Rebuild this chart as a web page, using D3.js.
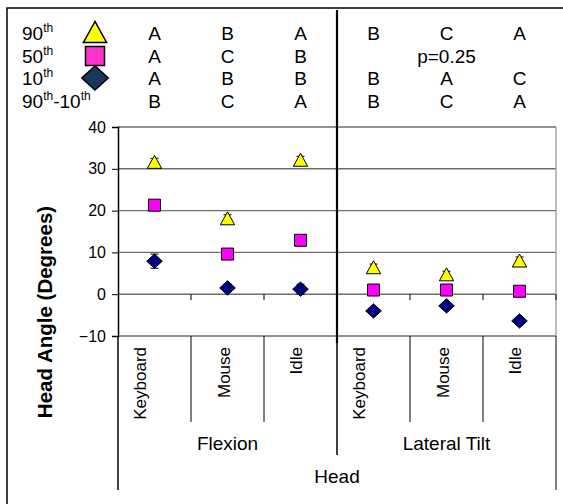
<!DOCTYPE html>
<html>
<head>
<meta charset="utf-8">
<script src="https://cdn.jsdelivr.net/npm/d3@7"></script>
<style>
  body { margin: 0; background: #fff; }
  text { font-family: Arial, "Liberation Sans", sans-serif; fill: #000; }
</style>
</head>
<body>
<div id="chart-area"></div>
<script>
// categories
var groups = ["Flexion", "Lateral Tilt"];
var tasks = ["Keyboard", "Mouse", "Idle"];
var categories = ["Flexion|Keyboard", "Flexion|Mouse", "Flexion|Idle",
                  "Lateral Tilt|Keyboard", "Lateral Tilt|Mouse", "Lateral Tilt|Idle"];

// percentile values (degrees)
var p90 = [31.5, 18.0, 32.0, 6.3, 4.6, 7.9];
var p50 = [21.3, 9.6, 12.9, 1.0, 1.0, 0.7];
var p10 = [7.9, 1.5, 1.2, -4.0, -2.8, -6.4];
// error bar half-lengths
var p90Err = [1.0, 1.0, 1.0, 0.9, 0.9, 1.0];
var p50Err = [0.6, 0.5, 0.6, 0.4, 0.4, 0.4];
var p10Err = [1.7, 0.9, 1.2, 0.6, 0.7, 0.6];

var yTicks = [-10, 0, 10, 20, 30, 40];

// significance letters table
var rowLabels = [["90", "th"], ["50", "th"], ["10", "th"], ["90", "th", "-10", "th"]];
var letters90 = ["A", "B", "A", "B", "C", "A"];
var letters50 = ["A", "C", "B", "", "", ""];
var letters10 = ["A", "B", "B", "B", "A", "C"];
var lettersRange = ["B", "C", "A", "B", "C", "A"];
var pNote = "p=0.25";

var width = 563, height = 504;
var bigFont = "19px";

var svg = d3.select("#chart-area").append("svg")
    .attr("width", width)
    .attr("height", height);

// outer frame (runs off the picture at right and bottom)
svg.append("rect")
    .attr("x", 7).attr("y", 8)
    .attr("width", 700).attr("height", 700)
    .attr("fill", "none")
    .attr("stroke", "#000")
    .attr("stroke-width", 1.5);

var x = d3.scaleBand().domain(categories).range([118, 556]).padding(0);
var y = d3.scaleLinear().domain([-10, 40]).range([336, 127]);

// gridlines
svg.append("g").selectAll("line")
    .data(yTicks)
    .enter().append("line")
        .attr("x1", 118).attr("x2", 556)
        .attr("y1", d => y(d)).attr("y2", d => y(d))
        .attr("stroke", "#6e6e6e")
        .attr("stroke-width", 1.4);

// right border
svg.append("line")
    .attr("x1", 556).attr("x2", 556)
    .attr("y1", y(40)).attr("y2", y(-10))
    .attr("stroke", "#9a9a9a")
    .attr("stroke-width", 1.3);

// y axis
var yAxis = d3.axisLeft(y).tickValues(yTicks).tickSize(6).tickPadding(6);
var gy = svg.append("g")
    .attr("transform", "translate(118,0)")
    .call(yAxis);
gy.select(".domain").attr("stroke", "#000").attr("stroke-width", 1.5);
gy.selectAll(".tick line").attr("stroke", "#000");
gy.selectAll(".tick text")
    .style("font-family", "Arial, 'Liberation Sans', sans-serif")
    .style("font-size", "16px")
    .attr("fill", "#000");

// small ticks on the zero line at category boundaries
svg.append("g").selectAll("line")
    .data(categories.slice(1).concat(["end"]))
    .enter().append("line")
        .attr("x1", d => d === "end" ? 556 : x(d))
        .attr("x2", d => d === "end" ? 556 : x(d))
        .attr("y1", y(0)).attr("y2", y(0) + 6)
        .attr("stroke", "#000");

// category axis below the plot
var catBottom = 422, groupBottom = 455, headBottom = 490;
svg.append("g").selectAll("line")
    .data(categories)
    .enter().append("line")
        .attr("x1", d => x(d) + x.bandwidth())
        .attr("x2", d => x(d) + x.bandwidth())
        .attr("y1", y(-10))
        .attr("y2", (d, i) => i === 5 ? headBottom : (i === 2 ? groupBottom : catBottom))
        .attr("stroke", "#000")
        .attr("stroke-width", (d, i) => i === 2 ? 1.5 : 1);

svg.append("line")
    .attr("x1", 118).attr("x2", 118)
    .attr("y1", y(-10)).attr("y2", headBottom)
    .attr("stroke", "#000").attr("stroke-width", 1.5);

// rotated task labels sit a little left of the band centre
var labelShift = { "Keyboard": -14, "Mouse": -3, "Idle": -4 };
svg.append("g").selectAll("text")
    .data(categories)
    .enter().append("text")
        .attr("transform", d => "translate(" + (x(d) + x.bandwidth() / 2 + labelShift[d.split("|")[1]]) + "," + (y(-10) + 11) + ") rotate(-90)")
        .attr("text-anchor", "end")
        .attr("dy", "0.35em")
        .style("font-size", "17px")
        .text(d => d.split("|")[1]);

svg.append("g").selectAll("text")
    .data(groups)
    .enter().append("text")
        .attr("x", (d, i) => (x(categories[i * 3]) + x(categories[i * 3 + 2]) + x.bandwidth()) / 2)
        .attr("y", 450)
        .attr("text-anchor", "middle")
        .style("font-size", bigFont)
        .text(d => d);

svg.append("text")
    .attr("x", (118 + 556) / 2)
    .attr("y", 483)
    .attr("text-anchor", "middle")
    .style("font-size", bigFont)
    .text("Head");

// y title
svg.append("text")
    .attr("transform", "translate(52," + 312 + ") rotate(-90)")
    .attr("text-anchor", "middle")
    .style("font-size", "20.5px")
    .style("font-weight", "bold")
    .text("Head Angle (Degrees)");

// thick separator between the two groups
svg.append("line")
    .attr("x1", x(categories[3])).attr("x2", x(categories[3]))
    .attr("y1", 10).attr("y2", y(-10) + 7)
    .attr("stroke", "#000")
    .attr("stroke-width", 2.2);

// marker shapes relative to centre
function markerPath(type, s) {
    if (type === "tri") return "M0," + (-s * 0.55) + "L" + (s * 0.55) + "," + (s * 0.45) + "L" + (-s * 0.55) + "," + (s * 0.45) + "Z";
    if (type === "sq") return "M" + (-s / 2) + "," + (-s / 2) + "h" + s + "v" + s + "h" + (-s) + "Z";
    return "M0," + (-s * 0.55) + "L" + (s * 0.6) + ",0L0," + (s * 0.55) + "L" + (-s * 0.6) + ",0Z";
}

var series = [
    { vals: p10, err: p10Err, type: "dia", fill: "#000080", size: 13 },
    { vals: p50, err: p50Err, type: "sq", fill: "#ff00ff", size: 12 },
    { vals: p90, err: p90Err, type: "tri", fill: "#ffff00", size: 13 }
];

series.forEach(s => {
    var g = svg.append("g");
    var pts = categories.map((c, i) => ({ c: c, v: s.vals[i], e: s.err[i] }));
    // error bars
    g.selectAll(".err")
        .data(pts)
        .enter().append("path")
            .attr("class", "err")
            .attr("d", d => {
                var cx = x(d.c) + x.bandwidth() / 2;
                var y1 = y(d.v + d.e), y2 = y(d.v - d.e);
                return "M" + cx + "," + y1 + "V" + y2 +
                    "M" + (cx - 4) + "," + y1 + "H" + (cx + 4) +
                    "M" + (cx - 4) + "," + y2 + "H" + (cx + 4);
            })
            .attr("stroke", "#000")
            .attr("fill", "none");
    g.selectAll(".mk")
        .data(pts)
        .enter().append("path")
            .attr("class", "mk")
            .attr("transform", d => "translate(" + (x(d.c) + x.bandwidth() / 2) + "," + y(d.v) + ")")
            .attr("d", markerPath(s.type, s.size))
            .attr("fill", s.fill)
            .attr("stroke", "#000")
            .attr("stroke-width", 1);
});

// significance table at the top
var rowY = [40, 63, 85, 108];
var rowLetters = [letters90, letters50, letters10, lettersRange];

var labels = svg.append("g").selectAll("text")
    .data(rowLabels)
    .enter().append("text")
        .attr("x", 22)
        .attr("y", (d, i) => rowY[i])
        .style("font-size", bigFont);
labels.each(function(parts) {
    var t = d3.select(this);
    parts.forEach((p, k) => {
        var sup = p === "th";
        t.append("tspan")
            .attr("font-size", sup ? "12px" : bigFont)
            .attr("dy", sup ? -8 : (k > 0 ? 8 : 0))
            .text(p);
    });
});

var legendMarks = [
    { type: "tri", fill: "#ffff00", size: 21 },
    { type: "sq", fill: "#ff33cc", size: 19 },
    { type: "dia", fill: "#17375e", size: 22 }
];
svg.append("g").selectAll("path")
    .data(legendMarks)
    .enter().append("path")
        .attr("transform", (d, i) => "translate(95," + (rowY[i] - 7) + ")")
        .attr("d", d => markerPath(d.type, d.size))
        .attr("fill", d => d.fill)
        .attr("stroke", "#000")
        .attr("stroke-width", 1.5);

rowLetters.forEach((row, r) => {
    svg.append("g").selectAll("text")
        .data(categories)
        .enter().append("text")
            .attr("x", d => x(d) + x.bandwidth() / 2)
            .attr("y", rowY[r])
            .attr("text-anchor", "middle")
            .style("font-size", bigFont)
            .text((d, i) => row[i]);
});

svg.append("text")
    .attr("x", x(categories[4]) + x.bandwidth() / 2)
    .attr("y", rowY[1])
    .attr("text-anchor", "middle")
    .style("font-size", bigFont)
    .text(pNote);
</script>
</body>
</html>
